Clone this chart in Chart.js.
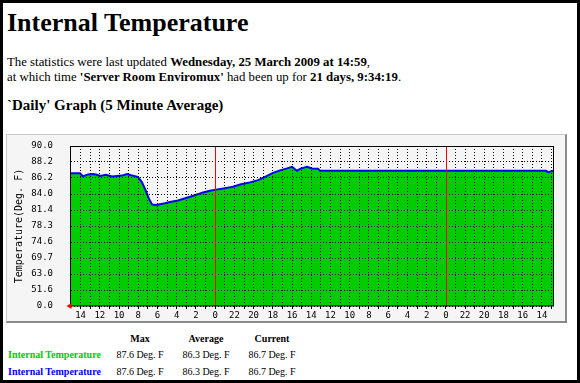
<!DOCTYPE html>
<html>
<head>
<meta charset="utf-8">
<script src="https://cdn.jsdelivr.net/npm/chart.js@4.4.1/dist/chart.umd.min.js"></script>
<style>
  html, body { margin:0; padding:0; background:#fff; }
  body { width:580px; height:383px; position:relative; overflow:hidden; font-family:"Liberation Serif","DejaVu Serif","Noto Serif","Times New Roman",Times,serif; color:#000; }
  #frame { position:absolute; left:0; top:0; width:580px; height:383px; box-sizing:border-box; border:3px solid #000; pointer-events:none; }
  .t { position:absolute; white-space:nowrap; }
  #h1 { left:7px; top:8px; font-size:26px; font-weight:bold; line-height:normal; }
  .p { left:7px; font-size:12.8px; line-height:15px; }
  #h2 { left:7px; top:97px; font-size:15px; font-weight:bold; line-height:normal; }
  #panel { position:absolute; left:6px; top:134px; width:561px; height:189px; background:#f5f5f5; }
  #panelBorder { position:absolute; left:6px; top:134px; width:561px; height:189px; box-sizing:border-box; border-top:1px solid #c8c8c8; border-left:1px solid #c8c8c8; border-right:2px solid #8a8a8a; border-bottom:2px solid #8a8a8a; pointer-events:none; }
  canvas { position:absolute; left:0; top:0; }
  .lg { position:absolute; font-size:10px; line-height:12px; white-space:nowrap; }
  .c { width:80px; text-align:center; }
  .hd { font-weight:bold; }
</style>
</head>
<body>
<div class="t" id="h1">Internal Temperature</div>
<div class="t p" style="top:55px">The statistics were last updated <b>Wednesday, 25 March 2009 at 14:59</b>,</div>
<div class="t p" style="top:70px">at which time <b>'Server Room Enviromux'</b> had been up for <b>21 days, 9:34:19</b>.</div>
<div class="t" id="h2">`Daily' Graph (5 Minute Average)</div>

<div id="panel"><canvas id="c" width="561" height="189"></canvas></div>
<div id="panelBorder"></div>

<div class="lg hd c" style="left:100px; top:333px">Max</div>
<div class="lg hd c" style="left:166px; top:333px">Average</div>
<div class="lg hd c" style="left:232px; top:333px">Current</div>

<div class="lg hd" style="left:8px; top:349px; color:#00cc00">Internal Temperature</div>
<div class="lg c" style="left:100px; top:349px">87.6 Deg. F</div>
<div class="lg c" style="left:166px; top:349px">86.3 Deg. F</div>
<div class="lg c" style="left:232px; top:349px">86.7 Deg. F</div>

<div class="lg hd" style="left:8px; top:366px; color:#0000ff">Internal Temperature</div>
<div class="lg c" style="left:100px; top:366px">87.6 Deg. F</div>
<div class="lg c" style="left:166px; top:366px">86.3 Deg. F</div>
<div class="lg c" style="left:232px; top:366px">86.7 Deg. F</div>

<div id="frame"></div>

<script>
// ---- data (x = hours before 15:00 Wednesday, left edge = now) ----
const hoursAgo = [0,0.42,0.94,1.25,1.77,2.29,2.7,3.02,3.64,4.27,4.79,5.31,5.83,6.24,6.76,6.97,7.39,7.8,8.12,8.43,8.84,9.26,9.78,10.3,11.13,11.97,12.8,13.74,14.46,15.09,16.02,16.86,17.69,18.63,19.46,20.29,21.02,21.75,22.48,23.0,23.31,23.52,23.83,24.24,24.56,25.08,25.7,25.91,49.43,49.64,49.84,50.15];
const greenTemps = [86.8,86.8,86.8,86.4,86.65,86.7,86.6,86.45,86.6,86.4,86.45,86.5,86.7,86.55,86.4,86.3,85.6,84.4,83.2,82.3,82.2,82.35,82.5,82.7,82.95,83.35,83.75,84.2,84.45,84.6,84.8,85.0,85.35,85.6,85.9,86.4,86.85,87.15,87.4,87.6,87.3,87.1,87.35,87.5,87.6,87.4,87.35,87.1,87.1,86.9,87.0,87.1];
const blueTemps = [86.8,86.8,86.8,86.4,86.65,86.7,86.6,86.45,86.6,86.4,86.45,86.5,86.7,86.55,86.4,86.3,85.6,84.4,83.2,82.3,82.2,82.35,82.5,82.7,82.95,83.35,83.75,84.2,84.45,84.6,84.8,85.0,85.35,85.6,85.9,86.4,86.85,87.15,87.4,87.6,87.3,87.1,87.35,87.5,87.6,87.4,87.35,87.1,87.1,86.9,87.0,87.1];
const yTickLabels = ['0.0','51.6','63.0','69.7','74.6','78.3','81.4','84.0','86.2','88.2','90.0'];
const xTickLabels = ['14','12','10','8','6','4','2','0','22','20','18','16','14','12','10','8','6','4','2','0','22','20','18','16','14'];
const xSpanHours = 50.15;
const midnightHoursAgo = [15, 39];

const yTickValues = yTickLabels.map(Number);
const xGridHours = Array.from({length: 50}, (_, i) => i + 1);

function tempToIndex(v) {
  const n = yTickValues.length;
  if (v <= yTickValues[0]) return 0;
  for (let i = 0; i < n - 1; i++) {
    if (v <= yTickValues[i + 1]) return i + (v - yTickValues[i]) / (yTickValues[i + 1] - yTickValues[i]);
  }
  return n - 1;
}
function indexToTemp(p) {
  const n = yTickValues.length;
  const i = Math.max(0, Math.min(n - 2, Math.floor(p)));
  return yTickValues[i] + (p - i) * (yTickValues[i + 1] - yTickValues[i]);
}

// MRTG-style non-linear value scale: equal spacing between the labelled levels
class MrtgScale extends Chart.LinearScale {
  buildTicks() {
    super.buildTicks();
    return yTickValues.map(v => ({ value: v }));
  }
  getPixelForValue(value) {
    if (value === null || value === undefined || isNaN(value)) return NaN;
    return this.getPixelForDecimal(tempToIndex(value) / (yTickValues.length - 1));
  }
  getValueForPixel(pixel) {
    return indexToTemp(this.getDecimalForPixel(pixel) * (yTickValues.length - 1));
  }
}
MrtgScale.id = 'mrtg';
MrtgScale.defaults = Chart.LinearScale.defaults;
Chart.register(MrtgScale);

const overlay = {
  id: 'overlay',
  afterDraw(chart) {
    const { ctx, chartArea: a, scales: { x } } = chart;
    ctx.save();
    ctx.setLineDash([]);
    ctx.globalAlpha = 1;
    ctx.fillStyle = '#ff0000';
    const top = Math.round(a.top), bot = Math.round(a.bottom);
    midnightHoursAgo.forEach(h => {
      const px = Math.round(x.getPixelForValue(h));
      ctx.fillRect(px, top, 1, bot - top);
    });
    ctx.strokeStyle = '#000';
    ctx.lineWidth = 1;
    ctx.strokeRect(Math.round(a.left) - 0.5, top + 0.5, Math.round(a.right - a.left) + 1, bot - top - 0.5);
    // red arrow at the time axis
    ctx.fillStyle = '#ff0000';
    ctx.beginPath();
    ctx.moveTo(a.left + 0.5, a.bottom - 3);
    ctx.lineTo(a.left + 0.5, a.bottom + 3);
    ctx.lineTo(a.left - 4.5, a.bottom);
    ctx.closePath(); ctx.fill();
    ctx.restore();
  }
};

const mono = "'DejaVu Sans Mono', monospace";
new Chart(document.getElementById('c'), {
  type: 'line',
  data: {
    datasets: [
      { label: 'Internal Temperature', data: hoursAgo.map((h, i) => ({ x: h, y: blueTemps[i] })),
        borderColor: '#0000ff', borderWidth: 2, fill: false, pointRadius: 0, tension: 0, order: 0 },
      { label: 'Internal Temperature', data: hoursAgo.map((h, i) => ({ x: h, y: greenTemps[i] })),
        borderColor: '#00cc00', borderWidth: 0, backgroundColor: '#00cc00', fill: 'origin', pointRadius: 0, tension: 0, order: 1 }
    ]
  },
  options: {
    responsive: false,
    animation: false,
    events: [],
    layout: { padding: { top: 12, right: 14, left: 0, bottom: 0 } },
    plugins: { legend: { display: false }, tooltip: { enabled: false } },
    scales: {
      x: {
        type: 'linear', min: 0, max: xSpanHours,
        afterBuildTicks: s => { s.ticks = xGridHours.map(v => ({ value: v })); },
        afterFit: s => { s.height = 17; },
        grid: { color: c => midnightHoursAgo.includes(c.tick && c.tick.value) ? 'rgba(0,0,0,0)' : '#000',
                lineWidth: 1, z: 1, drawTicks: true, tickLength: 3, tickColor: '#000', tickBorderDash: [] },
        border: { display: false, dash: [1, 2] },
        ticks: { autoSkip: false, maxRotation: 0, padding: 1, color: '#000', font: { family: mono, size: 9 },
          callback: v => (v % 2 === 1) ? xTickLabels[(v - 1) / 2] : '' }
      },
      y: {
        type: 'mrtg', min: 0, max: 90,
        afterFit: s => { s.width = 65; },
        grid: { color: '#000', lineWidth: 1, z: 1, drawTicks: true, tickLength: 16, tickColor: 'rgba(0,0,0,0)' },
        border: { display: false, dash: [1, 2] },
        ticks: { padding: 2, color: '#000', font: { family: mono, size: 9 },
          callback: (v, i) => yTickLabels[i] },
        title: { display: true, text: 'Temperature(Deg. F)', color: '#000', font: { family: mono, size: 10 }, padding: { top: 7, bottom: 0 } }
      }
    }
  },
  plugins: [overlay]
});
</script>
</body>
</html>
